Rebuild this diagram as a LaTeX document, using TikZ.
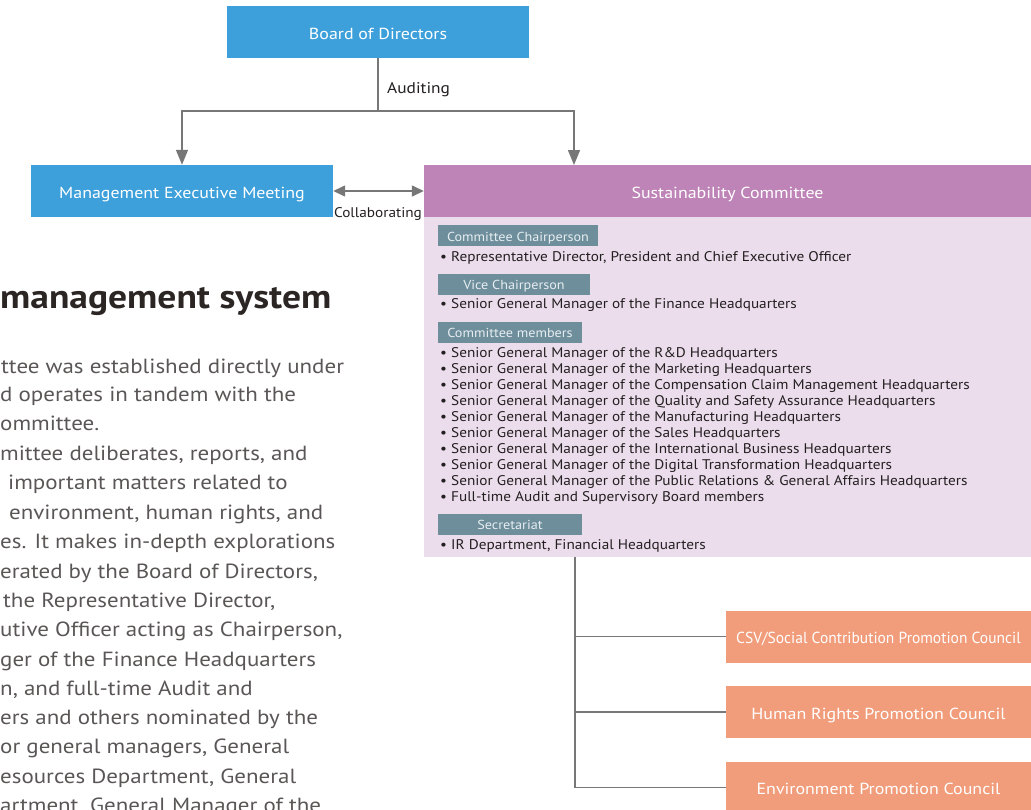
\documentclass[tikz,border=0pt]{standalone}
\usepackage{fontspec}
\setmainfont{PT Sans}[FakeStretch=1.12]
\newfontfamily\condfont{PT Sans}[FakeStretch=1.09]
\newfontfamily\narrowfont{PT Sans}[FakeStretch=0.97]
\usetikzlibrary{arrows.meta}
\definecolor{boardblue}{HTML}{3DA0DB}
\definecolor{scpurple}{HTML}{BE84B7}
\definecolor{sclight}{HTML}{EBDDEC}
\definecolor{tagcol}{HTML}{6F8E9C}
\definecolor{tagtext}{HTML}{E6EEF1}
\definecolor{council}{HTML}{F19D7B}
\definecolor{linecol}{HTML}{777777}
\definecolor{bodytext}{HTML}{5A5656}
\definecolor{headtext}{HTML}{2B2523}
\definecolor{listtext}{HTML}{231F20}
\begin{document}
\begin{tikzpicture}[x=1pt,y=-1pt,
  boxnode/.style={inner sep=0pt, minimum height=52pt, text=white,
    text height=14pt, text depth=0pt,
    font=\fontsize{16}{18}\selectfont},
  tagnode/.style={fill=tagcol, text=tagtext, inner sep=0pt, minimum height=21pt,
    text height=11pt, text depth=0pt,
    font=\condfont\fontsize{13}{15}\selectfont},
  listitem/.style={anchor=base west, inner sep=0pt, text=listtext,
    font=\condfont\fontsize{14}{16}\selectfont},
  para/.style={anchor=base west, inner sep=0pt, text=bodytext,
    font=\fontsize{20.5}{24}\selectfont},
  conn/.style={draw=linecol, line width=1.4pt},
  tip/.style={-{Triangle[width=12pt,length=15pt]}},
  dtip/.style={{Triangle[width=11pt,length=12pt]}-{Triangle[width=11pt,length=12pt]}},
  lbl/.style={inner sep=0pt, text=listtext}]
\useasboundingbox (0,0) rectangle (1031,809);
\clip (0,0) rectangle (1031,809);

% top level bodies
\node[boxnode, fill=boardblue, minimum width=302pt] (board) at (378,32) {Board of Directors};
\node[boxnode, fill=boardblue, minimum width=302pt] (mem) at (182,191) {Management Executive Meeting};
\node[fill=sclight, inner sep=0pt, minimum width=607pt, minimum height=340pt] (scbody) at (727.5,387) {};
\node[boxnode, fill=scpurple, minimum width=607pt] (sc) at (727.5,191) {Sustainability Committee};

% auditing lines
\coordinate (split) at (378,111);
\coordinate (scin) at (574,165);
\draw[conn] (board.south) -- (split);
\draw[conn, tip] (split) -| (mem.north);
\draw[conn, tip] (split) -| (scin);
\node[lbl, anchor=base west, font=\fontsize{15.5}{17}\selectfont] (audit) at (387,93) {Auditing};

% collaboration
\draw[conn, dtip] (mem.east) -- (sc.west);
\node[lbl, anchor=base, font=\condfont\fontsize{14}{16}\selectfont] (collab) at (378,217.5) {Collaborating};

% committee composition
\node[tagnode, minimum width=160pt] (tchair) at (518,235.5) {Committee Chairperson};
\node[listitem] (lchair) at (440,261) {• Representative Director, President and Chief Executive Officer};
\node[tagnode, minimum width=152pt] (tvice) at (514,284) {Vice Chairperson};
\node[listitem] (lvice) at (440,308) {• Senior General Manager of the Finance Headquarters};
\node[tagnode, minimum width=144pt] (tmem) at (510,332) {Committee members};
\foreach \i/\yy/\txt in {
  1/352/{R\&D Headquarters},
  2/368/{Marketing Headquarters},
  3/384/{Compensation Claim Management Headquarters},
  4/400/{Quality and Safety Assurance Headquarters},
  5/416/{Manufacturing Headquarters},
  6/432/{Sales Headquarters},
  7/448/{International Business Headquarters},
  8/464/{Digital Transformation Headquarters},
  9/480/{Public Relations \& General Affairs Headquarters}}
  \node[listitem] (lm\i) at (440,\yy+5) {• Senior General Manager of the \txt};
\node[listitem] (lm10) at (440,501) {• Full-time Audit and Supervisory Board members};
\node[tagnode, minimum width=144pt] (tsec) at (510,524) {Secretariat};
\node[listitem] (lsec) at (440,549) {• IR Department, Financial Headquarters};

% promotion councils
\node[boxnode, fill=council, minimum width=305pt] (c1) at (878.5,636.5) {\narrowfont CSV/Social Contribution Promotion Council};
\node[boxnode, fill=council, minimum width=305pt] (c2) at (878.5,712) {Human Rights Promotion Council};
\node[boxnode, fill=council, minimum width=305pt] (c3) at (878.5,787.5) {Environment Promotion Council};
\coordinate (trunk) at (575,557);
\draw[conn] (trunk) |- (c3.west);
\draw[conn] (trunk |- c1.west) -- (c1.west);
\draw[conn] (trunk |- c2.west) -- (c2.west);

% section heading and description
\node[anchor=base west, inner sep=0pt, text=headtext, font=\fontsize{33.5}{38}\selectfont\bfseries] (head) at (0,308) {management system};
\node[para] (p1) at (1,373) {ttee was established directly under};
\node[para] (p2) at (0,401) {d operates in tandem with the};
\node[para] (p3) at (0,430) {ommittee.};
\node[para] (p4) at (0,460) {mittee deliberates, reports, and};
\node[para] (p5) at (8,489) {important matters related to};
\node[para] (p6) at (9,519) {environment, human rights, and};
\node[para] (p7) at (0,548) {es. It makes in-depth explorations};
\node[para] (p8) at (0,578) {erated by the Board of Directors,};
\node[para] (p9) at (3,607) {the Representative Director,};
\node[para] (p10) at (0,636) {utive Officer acting as Chairperson,};
\node[para] (p11) at (0,666) {ger of the Finance Headquarters};
\node[para] (p12) at (0,695) {n, and full-time Audit and};
\node[para] (p13) at (0,724) {ers and others nominated by the};
\node[para] (p14) at (0,753) {or general managers, General};
\node[para] (p15) at (0,783) {esources Department, General};
\node[para] (p16) at (0,812) {artment, General Manager of the};
\end{tikzpicture}
\end{document}
